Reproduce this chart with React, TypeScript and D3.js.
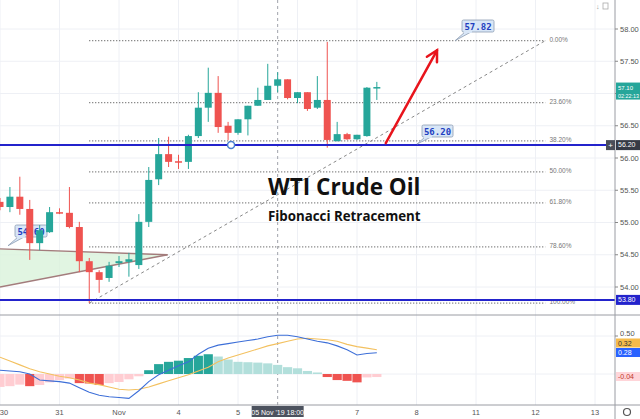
import React, { useRef, useEffect } from "react";
import * as d3 from "d3";

const W = 640;
const H = 419;

// WTI 4h candles, 6 per session, 30 Oct .. 7 Nov 2019
const opens = [55.32, 55.24, 55.40, 55.21, 54.68, 54.85, 55.16, 55.15, 54.93, 54.40, 54.23, 54.14, 54.37, 54.39, 54.34, 55.01, 55.67, 56.06, 55.95, 55.94, 56.34, 56.78, 57.01, 56.50, 56.39, 56.60, 56.81, 56.90, 57.12, 57.22, 56.93, 57.02, 56.78, 56.90, 56.26, 56.37, 56.29, 56.34, 57.08];
const highs = [55.38, 55.55, 55.71, 55.35, 54.96, 55.24, 55.22, 55.55, 55.01, 54.45, 54.26, 54.39, 54.48, 54.53, 55.13, 55.86, 56.31, 56.33, 56.05, 56.36, 57.02, 57.40, 57.27, 56.56, 56.60, 56.81, 57.09, 57.46, 57.33, 57.22, 57.02, 57.02, 57.27, 57.80, 56.56, 56.39, 56.36, 57.10, 57.18];
const lows = [55.19, 55.16, 55.12, 54.42, 54.57, 54.84, 55.13, 54.91, 54.23, 53.75, 53.91, 54.08, 54.31, 54.16, 54.28, 54.93, 55.58, 55.86, 55.83, 55.83, 56.31, 56.56, 56.39, 56.28, 56.36, 56.35, 56.81, 56.90, 57.02, 56.91, 56.85, 56.73, 56.76, 56.16, 56.26, 56.28, 56.28, 56.33, 56.90];
const closes = [55.24, 55.40, 55.21, 54.68, 54.88, 55.16, 55.15, 54.93, 54.40, 54.23, 54.11, 54.33, 54.40, 54.43, 55.01, 55.66, 56.06, 55.94, 55.94, 56.34, 56.78, 57.01, 56.48, 56.39, 56.60, 56.81, 56.90, 57.12, 57.22, 56.93, 57.02, 56.76, 56.90, 56.28, 56.37, 56.29, 56.36, 57.09, 57.10];

// MACD pane
const macdLine = [0.05, 0.04, 0.03, 0.0, -0.08, -0.09, -0.10, -0.12, -0.18, -0.24, -0.28, -0.30, -0.31, -0.32, -0.22, -0.10, -0.01, 0.05, 0.11, 0.16, 0.26, 0.34, 0.38, 0.40, 0.42, 0.44, 0.46, 0.49, 0.51, 0.51, 0.49, 0.46, 0.43, 0.41, 0.37, 0.32, 0.25, 0.27, 0.28];
const signalLine = [0.22, 0.17, 0.12, 0.07, 0.03, 0.0, -0.03, -0.05, -0.08, -0.12, -0.14, -0.17, -0.20, -0.21, -0.20, -0.17, -0.13, -0.09, -0.05, -0.01, 0.04, 0.09, 0.16, 0.21, 0.25, 0.29, 0.33, 0.37, 0.40, 0.43, 0.46, 0.47, 0.46, 0.45, 0.43, 0.39, 0.36, 0.34, 0.32];
const histogram = [-0.17, -0.16, -0.14, -0.16, -0.145, -0.11, -0.08, -0.06, -0.12, -0.125, -0.145, -0.12, -0.105, -0.07, -0.03, 0.05, 0.13, 0.16, 0.175, 0.21, 0.24, 0.26, 0.23, 0.19, 0.16, 0.155, 0.15, 0.14, 0.12, 0.09, 0.075, 0.04, 0.02, -0.04, -0.08, -0.09, -0.11, -0.045, -0.04];

const dayLabels = ["30", "31", "Nov", "4", "5", "6", "7", "8", "11", "12", "13"];
const priceTicks = [54, 54.5, 55, 55.5, 56, 56.5, 57, 57.5, 58];
const fibRatios = [0, 0.236, 0.382, 0.5, 0.618, 0.786, 1];
const fibLabels = ["0.00%", "23.60%", "38.20%", "50.00%", "61.80%", "78.60%", "100.00%"];
const fibLow = 53.75;
const fibHigh = 57.82;
const fibFrom = 9;
const fibTo = 55;
const levels = [56.2, 53.8];
const crosshairPos = 28;

const App = () => {
    const ref = useRef<SVGSVGElement>(null);

    useEffect(() => {
        const svg = d3.select(ref.current);
        svg.selectAll("*").remove();

        const plotRight = 615;
        const x = d3.scaleLinear().domain([0, 60]).range([0, 595]);
        const y = d3.scaleLinear().domain([54, 58]).range([287, 29]);
        const my = d3.scaleLinear().domain([0, 0.5]).range([374, 336]);
        const axisFont = "Liberation Sans, Arial, sans-serif";
        const lastClose = closes[closes.length - 1];

        svg.append("rect").attr("width", W).attr("height", H).attr("fill", "#fff");

        // grid
        const grid = svg.append("g").attr("stroke", "#eef0f5").attr("stroke-width", 1);
        dayLabels.forEach((d, i) => {
            grid.append("line").attr("x1", x(i * 6)).attr("x2", x(i * 6)).attr("y1", 0).attr("y2", 405);
        });
        priceTicks.forEach(p => {
            grid.append("line").attr("x1", 0).attr("x2", plotRight).attr("y1", y(p)).attr("y2", y(p));
        });
        grid.append("line").attr("x1", 0).attr("x2", plotRight).attr("y1", my(0.5)).attr("y2", my(0.5));
        grid.append("line").attr("x1", 0).attr("x2", plotRight).attr("y1", my(0)).attr("y2", my(0));

        // triangle pattern
        const triUpper: [number, number][] = [[0, 54.59], [16.9, 54.5]];
        const triLower: [number, number][] = [[0, 54.0], [16.9, 54.5]];
        const tri = [triUpper[0], triUpper[1], triLower[0]];
        svg.append("path")
            .attr("d", "M" + tri.map(d => x(d[0]) + "," + y(d[1])).join("L") + "Z")
            .attr("fill", "#d9f2db").attr("opacity", 0.8);
        [triUpper, triLower].forEach(seg => {
            svg.append("line")
                .attr("x1", x(seg[0][0])).attr("y1", y(seg[0][1]))
                .attr("x2", x(seg[1][0])).attr("y2", y(seg[1][1]))
                .attr("stroke", "#a37c7c").attr("stroke-width", 1.3);
        });

        // callout helper
        const callout = (g: any, text: string, tx: number, ty: number, bx: number, by: number, bw: number) => {
            g.append("path")
                .attr("d", `M${tx},${ty}L${bx + 3},${by + 12}L${bx + 9},${by + 12}Z`)
                .attr("fill", "#d8e6f7").attr("stroke", "#8d9db3").attr("stroke-width", 0.8);
            g.append("rect").attr("x", bx).attr("y", by).attr("width", bw).attr("height", 12)
                .attr("rx", 1.5).attr("fill", "#d8e6f7").attr("stroke", "#8d9db3").attr("stroke-width", 0.8);
            g.append("rect").attr("x", bx + 2).attr("y", by + 11).attr("width", 8).attr("height", 2).attr("fill", "#d8e6f7");
            g.append("text").attr("x", bx + bw / 2).attr("y", by + 9.5).attr("text-anchor", "middle")
                .attr("font-family", "DejaVu Sans Mono, monospace").attr("font-weight", "bold")
                .attr("font-size", 9).attr("fill", "#1f3fbf").text(text);
        };

        callout(svg.append("g"), "54.60", 8, y(54.64), 15, 225, 32);

        // fibonacci
        const fib = svg.append("g");
        fibRatios.forEach((r, i) => {
            const price = fibHigh - (fibHigh - fibLow) * r;
            fib.append("line").attr("x1", x(fibFrom)).attr("x2", x(fibTo))
                .attr("y1", y(price)).attr("y2", y(price))
                .attr("stroke", "#666").attr("stroke-width", 1.2).attr("stroke-dasharray", "1,2");
            fib.append("text").attr("x", x(fibTo) + 4).attr("y", y(price) + 1)
                .attr("font-family", axisFont).attr("font-size", 6.5).attr("fill", "#777").text(fibLabels[i]);
        });
        fib.append("line").attr("x1", x(fibFrom)).attr("y1", y(fibLow)).attr("x2", x(fibTo)).attr("y2", y(fibHigh))
            .attr("stroke", "#888").attr("stroke-width", 1).attr("stroke-dasharray", "3,3");

        // crosshair
        svg.append("line").attr("x1", x(crosshairPos)).attr("x2", x(crosshairPos)).attr("y1", 0).attr("y2", 405)
            .attr("stroke", "#a0a3ab").attr("stroke-width", 1).attr("stroke-dasharray", "3,3");

        // candles
        const up = "#26a69a";
        const down = "#ef5350";
        const cw = 7;
        const candles = svg.append("g");
        opens.forEach((o, i) => {
            const c = closes[i];
            const col = c >= o ? up : down;
            candles.append("line").attr("x1", x(i)).attr("x2", x(i))
                .attr("y1", y(highs[i])).attr("y2", y(lows[i])).attr("stroke", col).attr("stroke-width", 1);
            const top = y(Math.max(o, c));
            const h = Math.max(1.5, Math.abs(y(o) - y(c)));
            candles.append("rect").attr("x", x(i) - cw / 2).attr("y", top).attr("width", cw).attr("height", h).attr("fill", col);
        });

        // horizontal levels
        levels.forEach(l => {
            svg.append("line").attr("x1", 0).attr("x2", plotRight).attr("y1", y(l)).attr("y2", y(l))
                .attr("stroke", "#2323cc").attr("stroke-width", 2);
        });
        svg.append("circle").attr("cx", x(23.3)).attr("cy", y(56.2)).attr("r", 3.5)
            .attr("fill", "#fff").attr("stroke", "#4a7fd0").attr("stroke-width", 1.5);

        // red arrow
        const a0 = [x(38.9), y(56.23)];
        const a1 = [x(44.07), y(57.67)];
        const ang = Math.atan2(a1[1] - a0[1], a1[0] - a0[0]);
        const arrow = svg.append("g").attr("stroke", "#e8141c").attr("stroke-width", 2.5).attr("stroke-linecap", "round").attr("fill", "none");
        arrow.append("line").attr("x1", a0[0]).attr("y1", a0[1]).attr("x2", a1[0]).attr("y2", a1[1]);
        arrow.append("path").attr("d",
            `M${a1[0] - 12 * Math.cos(ang - 0.5)},${a1[1] - 12 * Math.sin(ang - 0.5)}L${a1[0]},${a1[1]}L${a1[0] - 12 * Math.cos(ang + 0.5)},${a1[1] - 12 * Math.sin(ang + 0.5)}`);

        callout(svg.append("g"), "57.82", x(45.9), y(fibHigh), 462, 20, 32);
        callout(svg.append("g"), "56.20", x(42.05), y(56.2) - 1, 422, 125, 31);

        // title
        svg.append("text").attr("x", 268).attr("y", 195).attr("font-family", "Open Sans, sans-serif")
            .attr("font-weight", "bold").attr("font-size", 22.5).attr("fill", "#111").text("WTI Crude Oil");
        svg.append("text").attr("x", 268).attr("y", 221).attr("font-family", "Open Sans, sans-serif")
            .attr("font-weight", "bold").attr("font-size", 13.3).attr("fill", "#111").text("Fibonacci Retracement");

        // MACD histogram
        const hist = svg.append("g");
        histogram.forEach((v, i) => {
            const prev = i > 0 ? histogram[i - 1] : v - 0.01;
            const rising = v > prev;
            const col = v >= 0 ? (rising ? "#26a69a" : "#b2dfdb") : (rising ? "#ffcdd2" : "#ef5350");
            hist.append("rect").attr("x", x(i) - 4.6).attr("width", 9.2)
                .attr("y", Math.min(my(v), my(0))).attr("height", Math.abs(my(v) - my(0)))
                .attr("fill", col);
        });
        const line = d3.line<number>().x((d, i) => x(i)).y(d => my(d));
        svg.append("path").attr("d", line(signalLine)).attr("fill", "none").attr("stroke", "#f3c160").attr("stroke-width", 1.1);
        svg.append("path").attr("d", line(macdLine)).attr("fill", "none").attr("stroke", "#3d6fd8").attr("stroke-width", 1.1);

        // pane borders
        svg.append("line").attr("x1", 0).attr("x2", W).attr("y1", 315).attr("y2", 315).attr("stroke", "#9a9ca3").attr("stroke-width", 1);
        svg.append("line").attr("x1", 0).attr("x2", W).attr("y1", 405).attr("y2", 405).attr("stroke", "#9a9ca3").attr("stroke-width", 1);
        svg.append("line").attr("x1", plotRight).attr("x2", plotRight).attr("y1", 0).attr("y2", H).attr("stroke", "#9a9ca3").attr("stroke-width", 1);

        // price axis (the tick under the live price tag stays hidden)
        const ax = svg.append("g").attr("font-family", axisFont).attr("font-size", 7.5).attr("fill", "#555");
        priceTicks.forEach(p => {
            ax.append("line").attr("x1", plotRight).attr("x2", plotRight + 3).attr("y1", y(p)).attr("y2", y(p)).attr("stroke", "#888");
            if (Math.abs(y(p) - y(lastClose)) > 10) {
                ax.append("text").attr("x", 620).attr("y", y(p) + 2.7).text(p.toFixed(2));
            }
        });
        ax.append("line").attr("x1", plotRight).attr("x2", plotRight + 3).attr("y1", my(0.5)).attr("y2", my(0.5)).attr("stroke", "#888");
        ax.append("text").attr("x", 620).attr("y", my(0.5)).text("0.50");

        const tag = (yc: number, h: number, bg: string, fg: string, lines: string[], fs = 7) => {
            svg.append("rect").attr("x", 616).attr("y", yc - h / 2).attr("width", W - 616).attr("height", h).attr("fill", bg);
            lines.forEach((t, k) => {
                svg.append("text").attr("x", 618).attr("y", yc - h / 2 + 7.3 + k * 8)
                    .attr("font-family", axisFont).attr("font-size", fs).attr("fill", fg)
                    .attr("textLength", t.length > 6 ? 21 : null).attr("lengthAdjust", "spacingAndGlyphs").text(t);
            });
        };
        tag(y(lastClose) + 4, 17, "#26a69a", "#fff", [lastClose.toFixed(2), "02:22:13"], 6);
        tag(y(56.2), 10, "#363a45", "#fff", ["56.20"]);
        svg.append("rect").attr("x", 606).attr("y", y(56.2) - 5).attr("width", 9).attr("height", 10).attr("fill", "#4a4e59");
        svg.append("text").attr("x", 610.5).attr("y", y(56.2) + 3).attr("text-anchor", "middle").attr("font-size", 8)
            .attr("font-family", axisFont).attr("fill", "#fff").text("+");
        tag(y(53.8), 10, "#2323cc", "#fff", ["53.80"]);
        tag(343, 9, "#f6bb4c", "#333", [signalLine[signalLine.length - 1].toFixed(2)]);
        tag(352.5, 9, "#2962ff", "#fff", [macdLine[macdLine.length - 1].toFixed(2)]);
        tag(376.5, 9, "#ffd5d9", "#c0392b", [histogram[histogram.length - 1].toFixed(2)]);

        // time axis (labels under the crosshair tag stay hidden)
        const cx = x(crosshairPos);
        const tx = svg.append("g").attr("font-family", axisFont).attr("font-size", 7.5).attr("fill", "#555").attr("text-anchor", "middle");
        dayLabels.forEach((d, i) => {
            if (Math.abs(x(i * 6) - cx) < 32) return;
            tx.append("text").attr("x", Math.max(x(i * 6), 4)).attr("y", 415).text(d);
        });
        svg.append("rect").attr("x", cx - 26).attr("y", 406).attr("width", 52).attr("height", 11).attr("fill", "#4c525e");
        svg.append("text").attr("x", cx).attr("y", 414.5).attr("text-anchor", "middle").attr("font-family", axisFont)
            .attr("font-size", 7).attr("fill", "#fff").text("05 Nov '19   18:00");

        // gear + top-right icons
        svg.append("circle").attr("cx", 627).attr("cy", 412).attr("r", 3.5).attr("fill", "none").attr("stroke", "#555").attr("stroke-width", 1.2);
        svg.append("text").attr("x", 596).attr("y", 9).attr("font-size", 7).attr("fill", "#999").attr("font-family", axisFont).text("↓");
        svg.append("rect").attr("x", 603).attr("y", 3).attr("width", 5).attr("height", 6).attr("fill", "none").attr("stroke", "#aaa").attr("stroke-width", 0.8);
    });

    return (
        <svg ref={ref} width={W} height={H} style={{ position: "absolute", left: 0, top: 0 }}></svg>
    );
};

export default App;
